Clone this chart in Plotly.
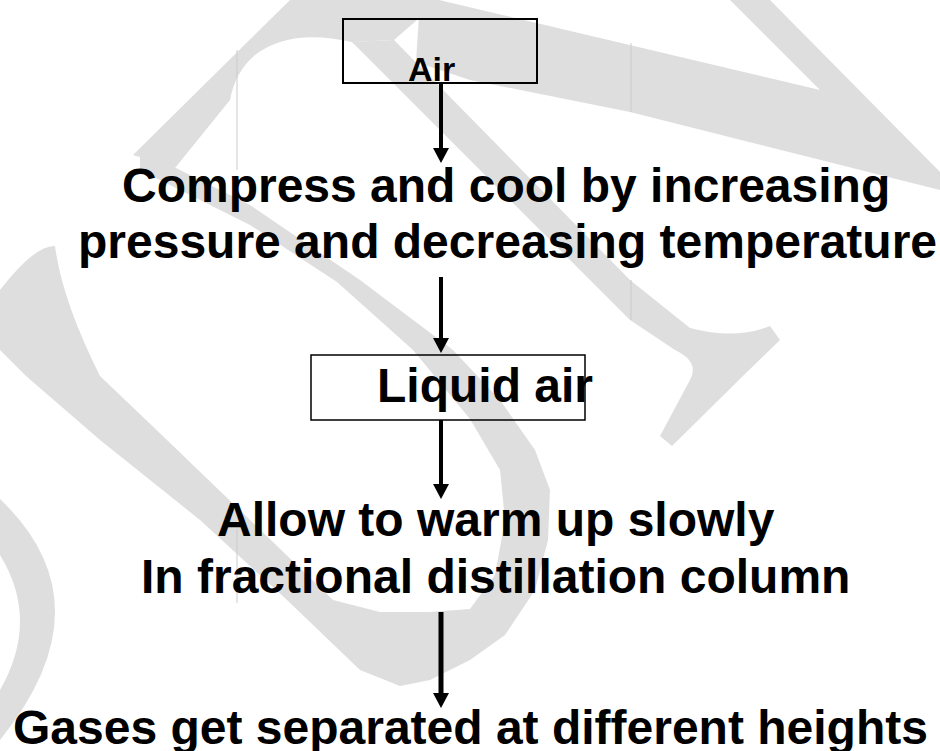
import plotly.graph_objects as go

# ---------------- data: texts of the flowchart ----------------
box_labels = ["Air", "Liquid air"]
step_lines = [
    ["Compress and cool by increasing", "pressure and decreasing temperature"],
    ["Allow to warm up slowly", "In fractional distillation column"],
    ["Gases get separated at different heights"],
]

# ---------------- layout (pixel geometry) ----------------
W, H = 940, 751
box_rects = [(343, 19, 537, 83), (311, 355, 585, 420)]
box_line_w = [2, 1.5]
box_text = [(431.5, 69.2, 34), (484.5, 385.4, 48)]          # x, y-center, font size
step_pos = [[(505.5, 185.4), (507, 241.4)],
            [(496, 519.4), (495.5, 576.4)],
            [(470, 727)]]
arrows = [(441, 83, 163, 4), (441, 277, 353, 4), (441, 420, 499, 4), (441, 612, 708, 5)]

WM = "#dedede"
watermark = [
    # band A + top arc
    "M 133,155 L 290,0 L 440,0 L 394,40 L 352,42 Q 290,28 255,55 Q 235,72 230,100 L 175,168 Z",
    # band B + C (top right)
    "M 420,0 L 439,0 L 820,90 L 730,0 L 770,0 L 940,172 L 940,190 L 630,112 L 470,80 L 416,62 Z",
    # band E
    "M 352,42 L 394,40 L 630,280 L 690,328 Q 735,340 770,326 L 780,340 L 745,374 L 672,446 "
    "L 660,436 L 690,380 Q 700,362 675,350 L 630,320 Z",
    # band D + arc + U bottom + band F
    "M 140,150 L 250,205 L 360,280 L 453,350 L 500,400 L 535,450 L 550,490 L 548,540 L 535,590 "
    "L 505,635 L 470,660 L 430,680 L 400,686 L 360,670 L 287,600 L 200,520 L 100,440 L 26,376 "
    "L 0,350 L 0,290 Q 35,245 55,246 Q 62,300 100,376 L 167,440 L 250,520 L 333,600 L 380,612 "
    "L 430,612 L 470,609 L 495,575 L 505,520 L 500,470 L 470,419 L 413,350 L 337,282 L 250,225 "
    "L 140,170 Z",
    # left arc
    "M 0,499 Q 110,604 0,740 L 0,690 Q 40,620 0,555 Z",
]
faint_lines = [(237, 50, 170), (237, 529, 603), (631, 43, 112), (631, 280, 320)]

FONT = "Liberation Sans, Arial, sans-serif"

fig = go.Figure()
fig.add_trace(go.Scatter(x=[0, W], y=[0, H], mode="markers",
                         marker=dict(opacity=0), hoverinfo="skip", showlegend=False))

shapes = []
for p in watermark:
    shapes.append(dict(type="path", path=p, xref="x", yref="y",
                       fillcolor=WM, line=dict(width=0), layer="below"))
for x, y0, y1 in faint_lines:
    shapes.append(dict(type="line", x0=x, x1=x, y0=y0, y1=y1, xref="x", yref="y",
                       line=dict(color="#cbcbcb", width=1), layer="below"))

for (x0, y0, x1, y1), lw in zip(box_rects, box_line_w):
    shapes.append(dict(type="rect", x0=x0, y0=y0, x1=x1, y1=y1, xref="x", yref="y",
                       line=dict(color="black", width=lw), fillcolor="rgba(0,0,0,0)"))

for x, y0, tip, lw in arrows:
    head = 15
    shapes.append(dict(type="line", x0=x, x1=x, y0=y0, y1=tip - head + 2, xref="x", yref="y",
                       line=dict(color="black", width=lw)))
    shapes.append(dict(type="path",
                       path=f"M {x-8},{tip-head} L {x+8},{tip-head} L {x},{tip} Z",
                       xref="x", yref="y", fillcolor="black", line=dict(width=0)))

annotations = []
for label, (x, y, fs) in zip(box_labels, box_text):
    annotations.append(dict(text=f"<b>{label}</b>", x=x, y=y, xref="x", yref="y",
                            showarrow=False, xanchor="center", yanchor="middle",
                            font=dict(family=FONT, size=fs, color="black")))
for lines, poss in zip(step_lines, step_pos):
    for t, (x, y) in zip(lines, poss):
        annotations.append(dict(text=f"<b>{t}</b>", x=x, y=y, xref="x", yref="y",
                                showarrow=False, xanchor="center", yanchor="middle",
                                font=dict(family=FONT, size=48, color="black")))

fig.update_layout(
    width=W, height=H, autosize=False,
    margin=dict(l=0, r=0, t=0, b=0),
    paper_bgcolor="white", plot_bgcolor="white",
    xaxis=dict(range=[0, W], visible=False, fixedrange=True),
    yaxis=dict(range=[H, 0], visible=False, fixedrange=True),
    shapes=shapes, annotations=annotations, showlegend=False,
)
fig.write_html(
    "out.html",
    config={"displayModeBar": False},
    post_script="document.body.style.margin='0';document.body.style.overflow='hidden';",
)
